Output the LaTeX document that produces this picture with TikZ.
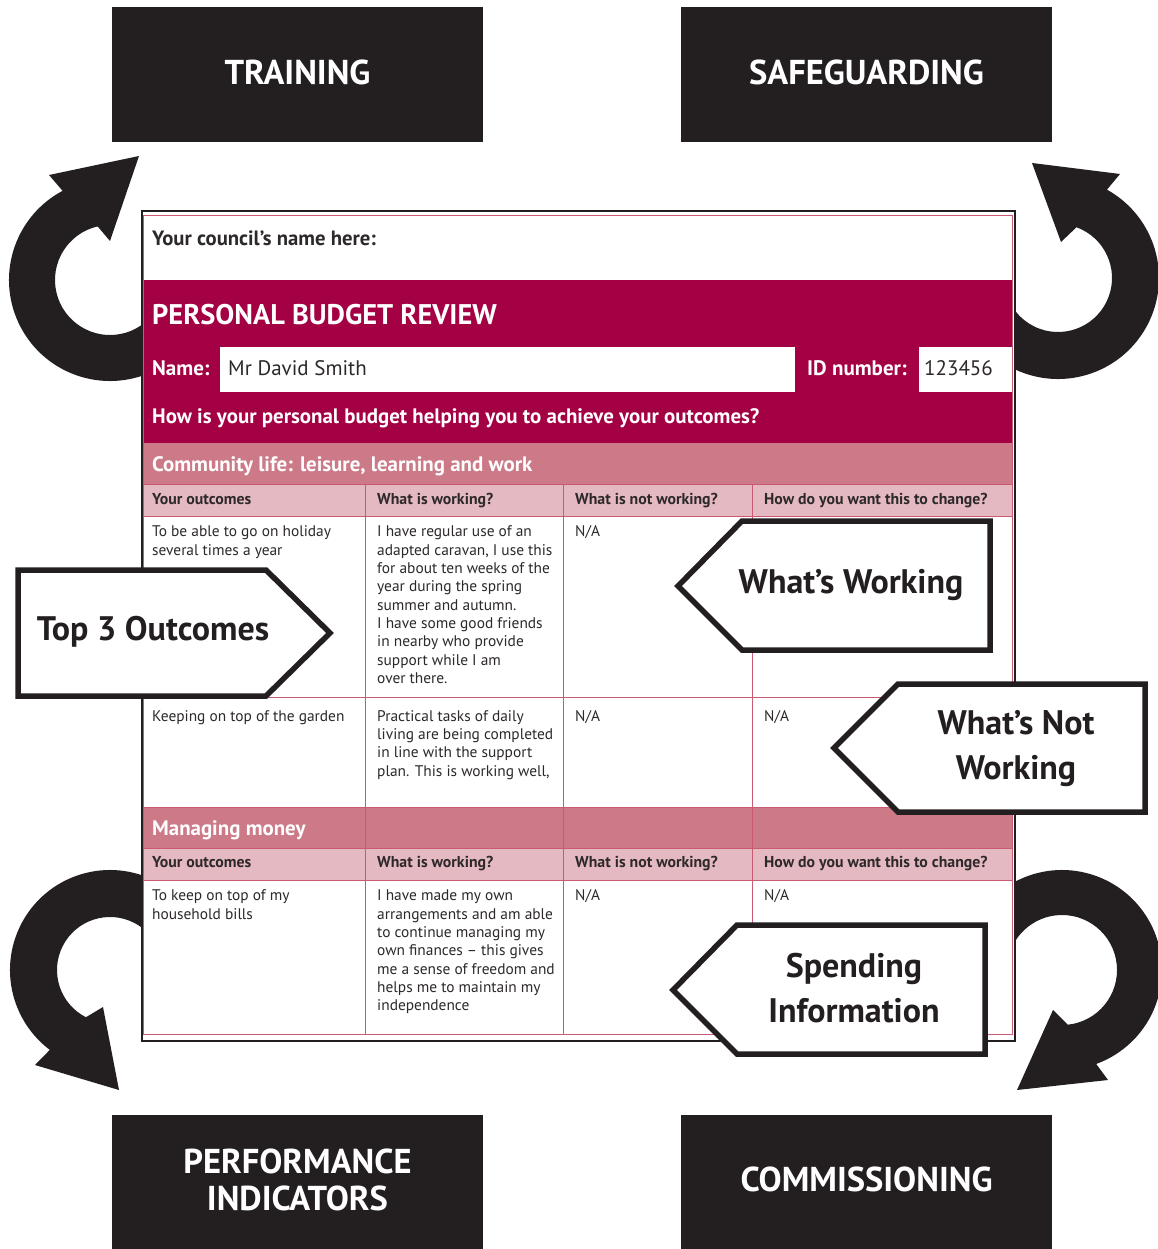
\documentclass[tikz,border=0pt]{standalone}
\usepackage{fontspec}
\setmainfont{PT Sans}
\definecolor{blk}{RGB}{35,31,32}
\definecolor{crim}{RGB}{164,0,68}
\definecolor{rose}{RGB}{204,122,136}
\definecolor{lpink}{RGB}{229,185,193}
\definecolor{gridc}{RGB}{202,90,114}
\definecolor{txt}{RGB}{45,41,42}
\newcommand\cellfont{\fontsize{15.4}{18.33}\selectfont}
\tikzset{
  blkbox/.style={fill=blk, draw=none, text=white, minimum width=371pt, minimum height=135pt, align=center, text depth=5pt, font=\fontsize{34.5}{37}\selectfont\bfseries},
  looparrow/.style={fill=blk},
  cell/.style={anchor=north west, inner sep=0pt, align=left, text=txt, font=\cellfont},
  colhead/.style={anchor=base west, inner sep=0pt, text=txt, font=\fontsize{15.8}{17}\selectfont\bfseries},
  band/.style={anchor=base west, inner sep=0pt, text=white, font=\fontsize{20.9}{24}\selectfont\bfseries},
  hdr/.style={anchor=base west, inner sep=0pt},
  callout/.style={draw=blk, fill=white, line width=5.5pt, miter limit=10},
  calltext/.style={text=blk, align=center, inner sep=0pt, font=\fontsize{34}{45}\selectfont\bfseries},
  gridline/.style={draw=gridc, line width=0.8pt},
}
\begin{document}
\begin{tikzpicture}[x=1pt,y=1pt]
\useasboundingbox (0,0) rectangle (1157,-1249);
% loop arrows
\fill[looparrow] (110,-280) ++(-20:101pt) arc[start angle=-20, end angle=-242, radius=101pt]
  -- (49,-175) -- (139,-156) -- (110,-241) -- ([shift={(110,-280)}]-257:55pt)
  arc[start angle=-257, end angle=-20, radius=55pt] -- cycle;
\fill[looparrow] (1058,-278) ++(200:101pt) arc[start angle=200, end angle=421, radius=101pt]
  -- (1120,-174) -- (1032,-163) -- (1061,-242) -- ([shift={(1058,-278)}]70:54pt)
  arc[start angle=430, end angle=200, radius=54pt] -- cycle;
\fill[looparrow] (110,-970) ++(20:100pt) arc[start angle=20, end angle=233, radius=100pt]
  -- (35,-1065) -- (119,-1090) -- (103,-1007) -- ([shift={(110,-970)}]243:53pt)
  arc[start angle=243, end angle=20, radius=53pt] -- cycle;
\fill[looparrow] (1062,-970) ++(160:100pt) arc[start angle=160, end angle=-70, radius=100pt]
  -- (1108,-1080) -- (1017,-1090) -- (1053,-1010) -- ([shift={(1062,-970)}]-84:55pt)
  arc[start angle=-84, end angle=160, radius=55pt] -- cycle;
% black boxes
\node[blkbox] (training) at (297.5,-74.5) {TRAINING};
\node[blkbox] (safe) at (866.5,-74.5) {SAFEGUARDING};
\node[blkbox, minimum height=134pt] (perf) at (297.5,-1182) {PERFORMANCE\\INDICATORS};
\node[blkbox, minimum height=134pt] (comm) at (866.5,-1182) {COMMISSIONING};
% form background
\fill[white] (142,-211) rectangle (1015,-1041);
\fill[crim] (143,-280) rectangle (1012,-443);
\fill[white] (220,-347) rectangle (795,-392);
\fill[white] (919,-347) rectangle (1012,-392);
\fill[rose] (143,-443) rectangle (1012,-484);
\fill[lpink] (143,-484) rectangle (1012,-516);
\fill[rose] (143,-807) rectangle (1012,-848);
\fill[lpink] (143,-848) rectangle (1012,-880);
% grid
\foreach \gx in {365,563,752} \draw[gridline] (\gx,-484) -- (\gx,-1034);
\foreach \gy in {484,516,697,807,848,880} \draw[gridline] (143,-\gy) -- (1012,-\gy);
\draw[gridline] (143,-215) rectangle (1012,-1034);
\draw[blk, line width=1.3pt] (142,-211) rectangle (1015,-1041);
% header texts
\node[hdr, text=txt, font=\fontsize{20.7}{22}\selectfont\bfseries] (council) at (152,-245.5) {Your council’s name here:};
\node[hdr, text=white, font=\fontsize{28.4}{30}\selectfont\bfseries] (title) at (152,-324) {PERSONAL BUDGET REVIEW};
\node[hdr, text=white, font=\fontsize{21}{24}\selectfont\bfseries] (namelbl) at (152,-375) {Name:};
\node[hdr, text=txt, font=\fontsize{21}{24}\selectfont] (nameval) at (228,-375) {Mr David Smith};
\node[hdr, text=white, font=\fontsize{21}{24}\selectfont\bfseries] (idlbl) at (807,-375) {ID number:};
\node[hdr, text=txt, font=\fontsize{21}{24}\selectfont] (idval) at (924,-375) {123456};
\node[hdr, text=white, font=\fontsize{20.9}{24}\selectfont\bfseries] (question) at (152,-423) {How is your personal budget helping you to achieve your outcomes?};
\node[band] (commlife) at (152,-471.5) {Community life: leisure, learning and work};
\node[colhead] (ha1) at (152,-504) {Your outcomes};
\node[colhead] (ha2) at (377,-504) {What is working?};
\node[colhead] (ha3) at (575,-504) {What is not working?};
\node[colhead] (ha4) at (764,-504) {How do you want this to change?};
% row 1
\node[cell] (r1a) at (152,-523.67) {\strut To be able to go on holiday\\several times a year};
\node[cell] (r1b) at (377,-523.67) {\strut I have regular use of an\\adapted caravan, I use this\\for about ten weeks of the\\year during the spring\\summer and autumn.\\I have some good friends\\in nearby who provide\\support while I am\\over there.};
\node[cell] (r1c) at (575,-523.67) {\strut N/A};
% row 2
\node[cell] (r2a) at (152,-708.17) {\strut Keeping on top of the garden};
\node[cell] (r2b) at (377,-708.17) {\strut Practical tasks of daily\\living are being completed\\in line with the support\\plan. This is working well,};
\node[cell] (r2c) at (575,-708.17) {\strut N/A};
\node[cell] (r2d) at (764,-708.17) {\strut N/A};
% managing money
\node[band] (money) at (152,-835) {Managing money};
\node[colhead] (hb1) at (152,-867.5) {Your outcomes};
\node[colhead] (hb2) at (377,-867.5) {What is working?};
\node[colhead] (hb3) at (575,-867.5) {What is not working?};
\node[colhead] (hb4) at (764,-867.5) {How do you want this to change?};
\node[cell] (r3a) at (152,-887.87) {\strut To keep on top of my\\household bills};
\node[cell] (r3b) at (377,-887.87) {\strut I have made my own\\arrangements and am able\\to continue managing my\\own finances – this gives\\me a sense of freedom and\\helps me to maintain my\\independence};
\node[cell] (r3c) at (575,-887.87) {\strut N/A};
\node[cell] (r3d) at (764,-887.87) {\strut N/A};
% callouts
\draw[callout] (18,-570) -- (266,-570) -- (330,-633) -- (266,-696) -- (18,-696) -- cycle;
\node[calltext] (top3) at (153,-632) {Top 3 Outcomes};
\draw[callout] (990,-521) -- (742,-521) -- (678,-586) -- (742,-650) -- (990,-650) -- cycle;
\node[calltext] (working) at (851,-585) {What’s Working};
\draw[callout] (1145,-684) -- (898,-684) -- (834,-748) -- (898,-812) -- (1145,-812) -- cycle;
\node[calltext] (notworking) at (1016,-749) {What’s Not\\Working};
\draw[callout] (985,-925) -- (737,-925) -- (673,-990) -- (737,-1054) -- (985,-1054) -- cycle;
\node[calltext] (spending) at (854,-988) {Spending\\Information};
\end{tikzpicture}
\end{document}
